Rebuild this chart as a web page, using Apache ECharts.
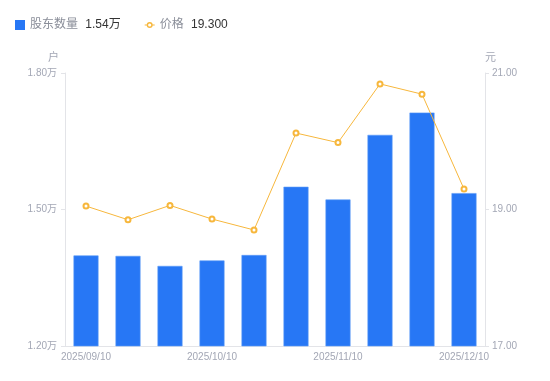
<!DOCTYPE html>
<html>
<head>
<meta charset="utf-8">
<style>
html,body{margin:0;padding:0;background:#fff;}
#chart{width:550px;height:381px;}
</style>
<script src="https://cdn.jsdelivr.net/npm/echarts@6/dist/echarts.min.js"></script>
</head>
<body>
<div id="chart"></div>
<script>
// 日期
var dates = ['2025/09/10','2025/09/20','2025/09/30','2025/10/10','2025/10/20','2025/10/31','2025/11/10','2025/11/20','2025/11/30','2025/12/10'];
// 股东数量(万户)
var holders = [1.399, 1.398, 1.376, 1.388, 1.400, 1.550, 1.522, 1.664, 1.713, 1.536];
// 价格(元)
var prices = [19.05, 18.85, 19.06, 18.86, 18.70, 20.12, 19.98, 20.84, 20.69, 19.30];
var legendVals = {'股东数量':'1.54万','价格':'19.300'};

var FONT = "'Liberation Sans', Arial, 'Noto Sans CJK SC', sans-serif";
var gray = '#a3a7b5';
// 图例: 线+空心圆
var lineIcon = 'path://M0,4.5H2.2V5.5H0Z M7.8,4.5H10V5.5H7.8Z M5,2A3,3 0 1,1 5,8A3,3 0 1,1 5,2Z M5,3.4A1.6,1.6 0 1,0 5,6.6A1.6,1.6 0 1,0 5,3.4Z';

var myChart = echarts.init(document.getElementById('chart'));
var option = {
	animation:false,
	textStyle:{fontFamily:FONT},
	legend:{
		left:10, top:14,
		itemWidth:10, itemHeight:10, itemGap:24,
		textStyle:{
			fontFamily:FONT,
			rich:{
				n:{color:'#8a8e99',fontSize:12,fontFamily:FONT},
				v:{color:'#333333',fontSize:12,fontFamily:FONT,padding:[0,0,0,4]}
			}
		},
		formatter:function(name){
			return '{n|'+name+'} {v|'+legendVals[name]+'}';
		},
		data:[
			{name:'股东数量',icon:'rect',itemStyle:{borderWidth:0}},
			{name:'价格',icon:lineIcon,itemStyle:{color:'#f7b73c',borderWidth:0}}
		]
	},
	grid:{left:65,right:65,top:73,bottom:35},
	xAxis:[{
		type:'category',
		data:dates,
		axisLine:{lineStyle:{color:'#e3e4e8'}},
		axisTick:{show:false},
		axisLabel:{color:gray,fontSize:10,fontFamily:FONT,interval:2,margin:6}
	}],
	yAxis:[{
		type:'value',
		name:'户',
		nameGap:10,
		nameTextStyle:{color:gray,fontSize:11,align:'right',padding:[0,6,0,0]},
		min:1.2,max:1.8,interval:0.3,
		axisLine:{show:true,lineStyle:{color:'#e3e4e8'}},
		axisTick:{show:true,length:4,lineStyle:{color:'#e3e4e8'}},
		splitLine:{show:false},
		axisLabel:{color:gray,fontSize:10,fontFamily:FONT,margin:8,formatter:function(v){return v.toFixed(2)+'万';}}
	},{
		type:'value',
		name:'元',
		nameGap:10,
		nameTextStyle:{color:gray,fontSize:11,align:'left'},
		min:17,max:21,interval:2,
		axisLine:{show:true,lineStyle:{color:'#e3e4e8'}},
		axisTick:{show:true,length:4,lineStyle:{color:'#e3e4e8'}},
		splitLine:{show:false},
		axisLabel:{color:gray,fontSize:10,fontFamily:FONT,margin:7,formatter:function(v){return v.toFixed(2);}}
	}],
	series:[{
		name:'股东数量',
		type:'bar',
		yAxisIndex:0,
		barWidth:25,
		itemStyle:{color:'#2777f5',borderColor:'#5d9af7',borderWidth:0.6},
		data:holders
	},{
		name:'价格',
		type:'line',
		yAxisIndex:1,
		symbol:'emptyCircle',
		symbolSize:5,
		lineStyle:{color:'#f7b73c',width:1},
		itemStyle:{color:'#f7b73c',borderWidth:2},
		data:prices
	}]
};
myChart.setOption(option);
</script>
</body>
</html>
